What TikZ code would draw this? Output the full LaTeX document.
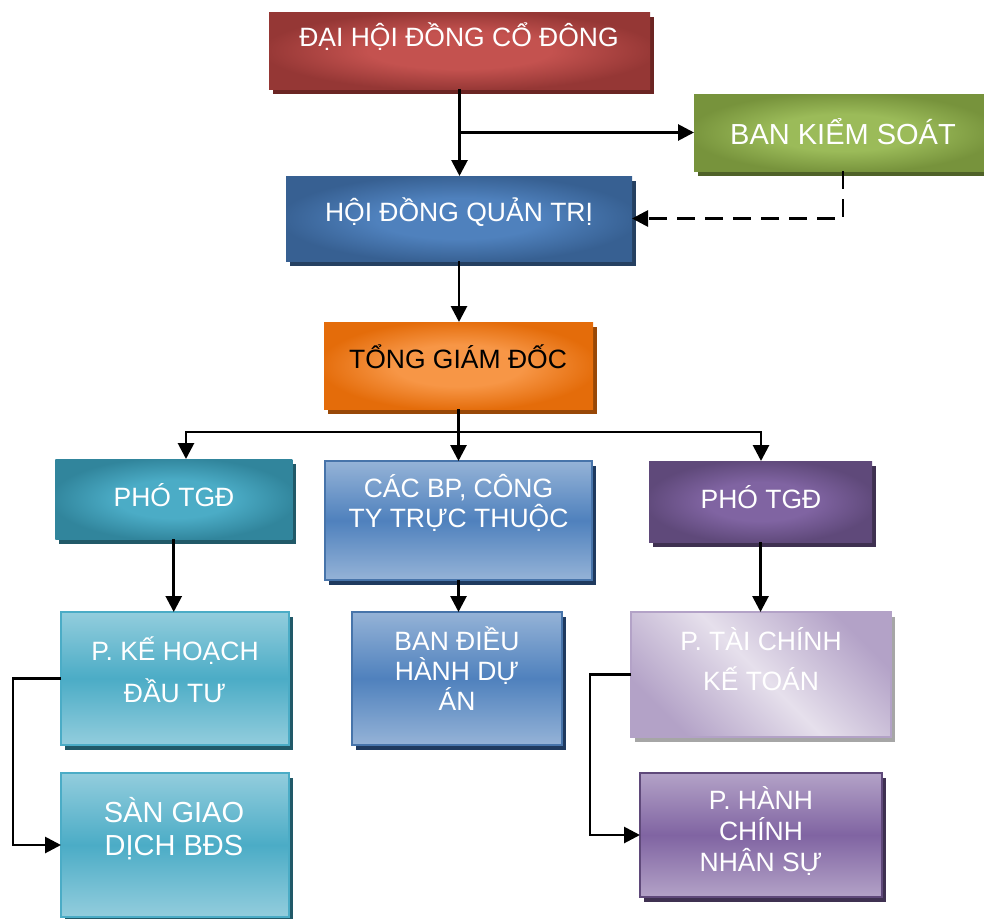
\documentclass[tikz,border=0pt]{standalone}
\usepackage{fontspec}
\setmainfont{Liberation Sans}
\usetikzlibrary{arrows.meta,calc,shadows}
% colours
\definecolor{redin}{HTML}{C4524F}\definecolor{redout}{HTML}{953735}\definecolor{redsd}{HTML}{6B2523}
\definecolor{grnin}{HTML}{9BBB59}\definecolor{grnout}{HTML}{77933C}\definecolor{grnsd}{HTML}{4F6228}
\definecolor{bluin}{HTML}{4F81BD}\definecolor{bluout}{HTML}{376092}\definecolor{blusd}{HTML}{254061}
\definecolor{orgin}{HTML}{F79646}\definecolor{orgout}{HTML}{E46C0A}\definecolor{orgsd}{HTML}{984807}
\definecolor{tealin}{HTML}{4BACC6}\definecolor{tealout}{HTML}{31859C}\definecolor{tealsd}{HTML}{215968}
\definecolor{purin}{HTML}{8064A2}\definecolor{purout}{HTML}{5F497A}\definecolor{pursd}{HTML}{3F3151}
\definecolor{ltblue}{HTML}{95B3D7}\definecolor{navysd}{HTML}{1F3A5F}
\definecolor{ltteal}{HTML}{93CDDD}
\definecolor{lav}{HTML}{B3A2C7}\definecolor{lavwhite}{HTML}{E6E0EC}\definecolor{graysd}{HTML}{A6A6A6}
\newcommand\declrad[3]{\pgfdeclareradialshading{#1}{\pgfpoint{0bp}{0bp}}{color(0bp)=(#2); color(12bp)=(#2); color(26bp)=(#3); color(50bp)=(#3)}}
\declrad{redsh}{redin}{redout}
\declrad{grnsh}{grnin}{grnout}
\declrad{blush}{bluin}{bluout}
\declrad{orgsh}{orgin}{orgout}
\declrad{tealsh}{tealin}{tealout}
\declrad{pursh}{purin}{purout}
\begin{document}
\begin{tikzpicture}[x=1pt,y=-1pt,
  box/.style={inner sep=0pt, outer sep=0pt, minimum width=#1},
  sh/.style={drop shadow={shadow xshift=4pt, shadow yshift=-5pt, opacity=1, fill=#1}},
  vgrad/.style n args={2}{top color=#1, bottom color=#1, middle color=#2},
  txt/.style={text=white, align=center, inner sep=0pt, font=\fontsize{26.5}{30}\selectfont},
  conn/.style={line width=2.8pt, -{Triangle[length=16pt,width=16pt]}},
]
\useasboundingbox (0,0) rectangle (984,918);
% boxes
\node[box=381pt, minimum height=77pt, sh=redsd, shade, shading=redsh] (A) at (459.5,50.5) {};
\node[box=298pt, minimum height=77pt, sh=grnsd, shade, shading=grnsh] (B) at (843,132.5) {};
\node[box=346pt, minimum height=85pt, sh=blusd, shade, shading=blush] (C) at (459,218.5) {};
\node[box=269pt, minimum height=87pt, sh=orgsd, shade, shading=orgsh] (D) at (458.5,365.5) {};
\node[box=237pt, minimum height=80pt, sh=tealsd, shade, shading=tealsh] (E) at (173.75,499) {};
\node[box=267pt, minimum height=119pt, sh=navysd, vgrad={ltblue}{bluin}, draw=bluin!90!black, line width=1.8pt] (F) at (458.5,520.5) {};
\node[box=223pt, minimum height=81pt, sh=pursd, shade, shading=pursh] (G) at (760.5,501.5) {};
\node[box=228pt, minimum height=133pt, sh=tealsd, vgrad={ltteal}{tealin}, draw=tealin, line width=1.8pt] (H) at (175,678.5) {};
\node[box=210pt, minimum height=133pt, sh=navysd, vgrad={ltblue}{bluin}, draw=bluin!90!black, line width=1.8pt] (I) at (457,678.5) {};
\node[box=260pt, minimum height=125pt, sh=graysd, vgrad={lav}{lavwhite}, shading angle=-45, draw=lav, line width=1.8pt] (J) at (761,674.5) {};
\node[box=228pt, minimum height=144pt, sh=tealsd, vgrad={ltteal}{tealin}, draw=tealin, line width=1.8pt] (K) at (175,845) {};
\node[box=242pt, minimum height=124pt, sh=pursd, vgrad={lav}{purin}, draw=purout, line width=1.8pt] (L) at (761,835) {};
% texts
\node[txt] (At) at (459,37) {ĐẠI HỘI ĐỒNG CỔ ĐÔNG};
\node[txt, font=\fontsize{29}{32}\selectfont] (Bt) at (843,132) {BAN KIỂM SOÁT};
\node[txt] (Ct) at (459,212) {HỘI ĐỒNG QUẢN TRỊ};
\node[txt, text=black] (Dt) at (458,357) {TỔNG GIÁM ĐỐC};
\node[txt] (Et) at (174,495) {PHÓ TGĐ};
\node[txt] (Ft) at (458.5,503) {CÁC BP, CÔNG\\TY TRỰC THUỘC};
\node[txt] (Gt) at (761,497) {PHÓ TGĐ};
\node[txt, font=\fontsize{26.5}{42}\selectfont] (Ht) at (175,670) {P. KẾ HOẠCH\\ĐẦU TƯ};
\node[txt] (It) at (457,669) {BAN ĐIỀU\\HÀNH DỰ\\ÁN};
\node[txt, font=\fontsize{26.5}{40}\selectfont] (Jt) at (761,659) {P. TÀI CHÍNH\\KẾ TOÁN};
\node[txt, font=\fontsize{29}{33}\selectfont] (Kt) at (174,828.5) {SÀN GIAO\\DỊCH BĐS};
\node[txt, font=\fontsize{26.5}{31}\selectfont] (Lt) at (761,831) {P. HÀNH\\CHÍNH\\NHÂN SỰ};
% connectors
\coordinate (busC) at (458.5,432);
\coordinate (busL) at (186,432);
\coordinate (busR) at (761,432);
\draw[conn] (A.south) -- (A.south |- C.north);
\draw[conn] (A.south |- B.west) -- (B.west);
\draw[conn, dash pattern=on 18pt off 10pt] (B.south) |- (C.east);
\draw[conn] (C.south) -- (C.south |- D.north);
\draw[conn] (D.south) -- (D.south |- F.north);
\draw[conn] (busC) -| (busL |- E.north);
\draw[conn] (busC) -| (busR |- G.north);
\draw[conn] (E.south) -- (E.south |- H.north);
\draw[conn] (F.south) -- (F.south |- I.north);
\draw[conn] (G.south) -- (G.south |- J.north);
\draw[conn] (H.west) -- ++(-48,0) |- (K.west);
\draw[conn] (J.west) -- ++(-41,0) |- (L.west);
\end{tikzpicture}
\end{document}
